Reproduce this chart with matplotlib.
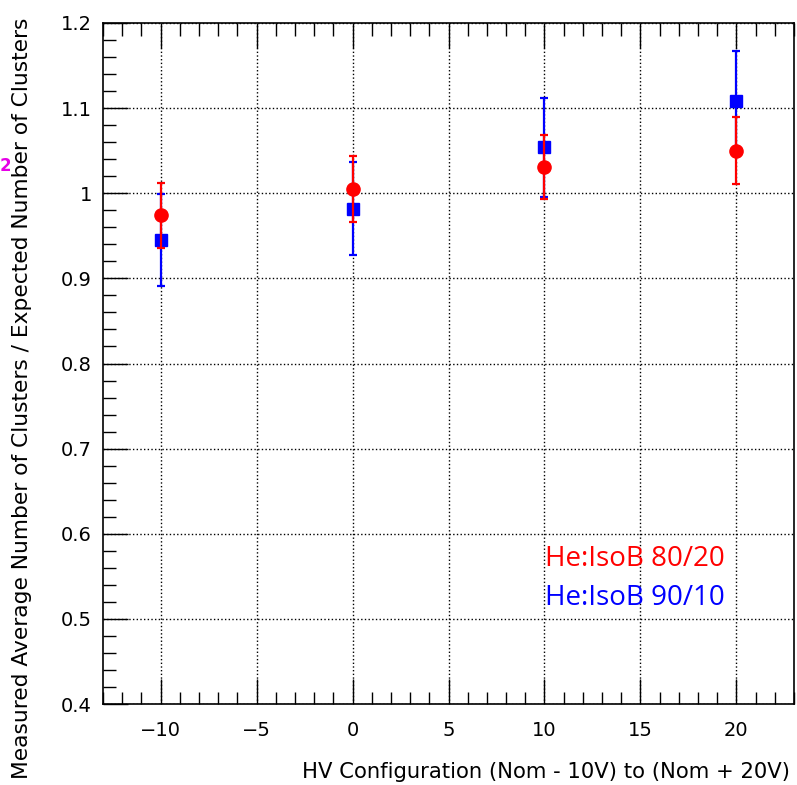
import numpy as np
import matplotlib
matplotlib.use('Agg')
import matplotlib.pyplot as plt
from matplotlib.ticker import MultipleLocator

plt.rcParams['font.family'] = ['DejaVu Sans']

##### DATA ######
hv = [-10, 0, 10, 20]

# He:IsoB 80/20 (red)
ratio_8020 = [0.974, 1.005, 1.031, 1.050]
err_8020 = [0.038, 0.039, 0.038, 0.039]

# He:IsoB 90/10 (blue)
ratio_9010 = [0.945, 0.982, 1.054, 1.108]
err_9010 = [0.054, 0.055, 0.058, 0.059]

ytick_vals = [0.4, 0.5, 0.6, 0.7, 0.8, 0.9, 1.0, 1.1, 1.2]
ytick_labels = ['0.4', '0.5', '0.6', '0.7', '0.8', '0.9', '1', '1.1', '1.2']
#################

fig = plt.figure(figsize=(7.97, 7.85), dpi=100)
ax = fig.add_axes([103/797, 81/785, 691/797, 681/785])

# blue first so red sits on top
ax.errorbar(hv, ratio_9010, yerr=err_9010, fmt='s', color='#0000ff', ms=8.8,
            elinewidth=1.6, capsize=3, capthick=1.6, zorder=3)
ax.errorbar(hv, ratio_8020, yerr=err_8020, fmt='o', color='#ff0000', ms=9.5,
            elinewidth=1.6, capsize=3, capthick=1.6, zorder=4)

ax.set_xlim(-13, 23)
ax.set_ylim(0.4, 1.2)
ax.xaxis.set_major_locator(MultipleLocator(5))
ax.xaxis.set_minor_locator(MultipleLocator(1))
ax.set_yticks(ytick_vals)
ax.set_yticklabels(ytick_labels)
ax.yaxis.set_minor_locator(MultipleLocator(0.02))

ax.grid(True, which='major', ls=':', color='black', lw=1.0)
ax.tick_params(which='both', direction='in', top=True, right=False,
               labelsize=14, width=1.0, colors='black')
ax.tick_params(axis='y', pad=8)
ax.tick_params(axis='x', pad=12)
ax.tick_params(which='major', length=18)
ax.tick_params(which='minor', length=9)
for sp in ax.spines.values():
    sp.set_linewidth(1.2)

# ROOT style axis titles, right aligned
fig.text(790/797, 1 - 772/785,
         'HV Configuration (Nom - 10V) to (Nom + 20V)',
         ha='right', va='center', fontsize=15.2)
fig.text(22/797, 1 - 18/785,
         'Measured Average Number of Clusters / Expected Number of Clusters',
         rotation=90, ha='center', va='top', fontsize=15.7)

# legend-like text
ax.text(545/797, 1 - 566/785, 'He:IsoB 80/20', transform=fig.transFigure,
        color='#ff0000', fontsize=20, family='Open Sans', ha='left', va='baseline')
ax.text(545/797, 1 - 605/785, 'He:IsoB 90/10', transform=fig.transFigure,
        color='#0000ff', fontsize=20, family='Open Sans', ha='left', va='baseline')

# leftover label, clipped at the left edge of the canvas like in the original
clip_ax = fig.add_axes([0, 1 - 180/785, 10/797, 28/785])
clip_ax.set_axis_off()
clip_ax.text(0, 0.5, '20', color='#e600e6', fontsize=12, fontweight='bold',
             ha='left', va='center', transform=clip_ax.transAxes, clip_on=True)

fig.savefig('out.png', dpi=100)
